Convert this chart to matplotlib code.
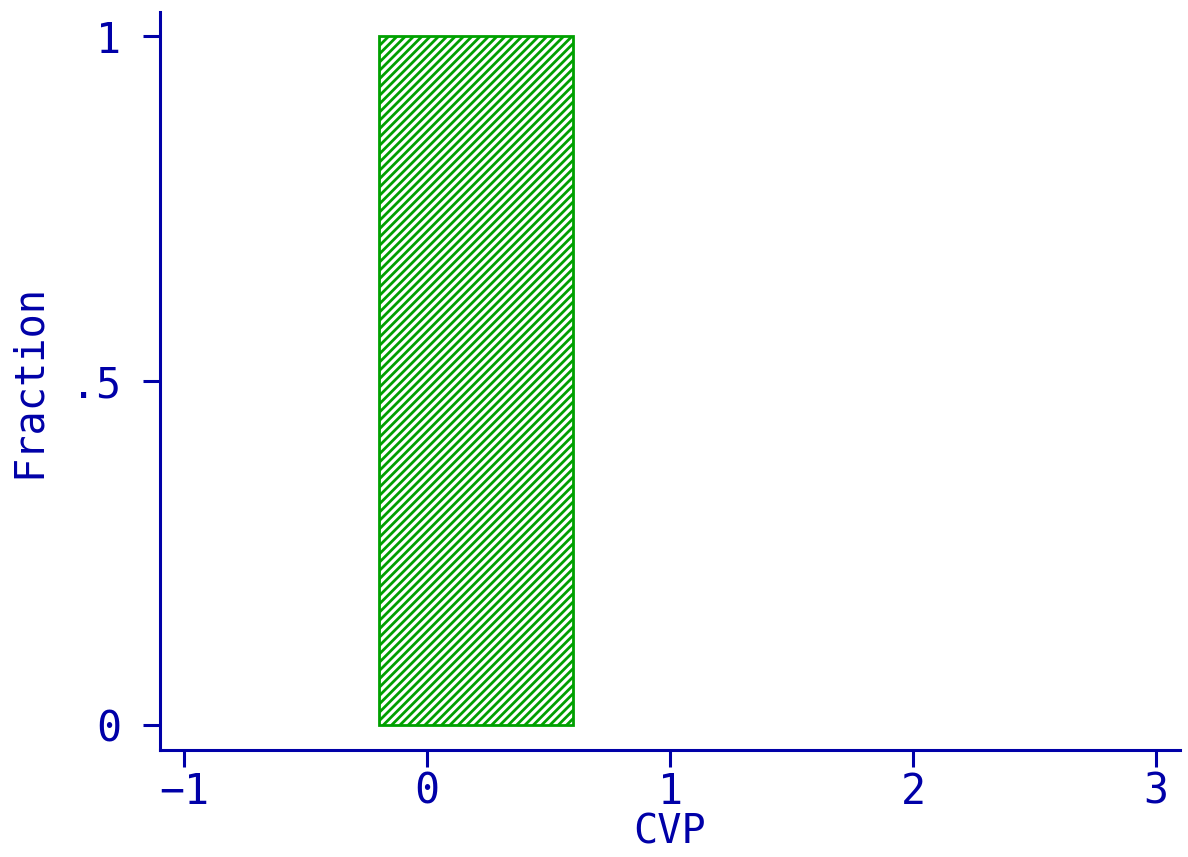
import matplotlib.pyplot as plt

# histogram of CVP: a single bin holds every observation
bin_edges = [-0.2, 0.6]
fractions = [1.0]
xticks = [-1, 0, 1, 2, 3]
yticks = [0, 0.5, 1]
ytick_labels = ["0", ".5", "1"]

blue = "#0000a8"
green = "#00a000"

plt.rcParams["font.family"] = "DejaVu Sans Mono"
plt.rcParams["hatch.linewidth"] = 2.0
plt.rcParams["hatch.color"] = green

fig = plt.figure(figsize=(11.88, 8.57), dpi=100)
ax = fig.add_axes([0.1347, 0.1249, 0.8586, 0.861])

ax.bar(bin_edges[0], fractions[0], width=bin_edges[1] - bin_edges[0],
       align="edge", facecolor="white", edgecolor=green, linewidth=2.0,
       hatch="////")

ax.set_xlim(-1.1, 3.1)
ax.set_ylim(-0.036, 1.035)

for side in ["top", "right"]:
    ax.spines[side].set_visible(False)
for side in ["left", "bottom"]:
    ax.spines[side].set_color(blue)
    ax.spines[side].set_linewidth(2.2)

ax.set_xticks(xticks)
ax.set_yticks(yticks)
ax.set_yticklabels(ytick_labels)
ax.tick_params(axis="both", colors=blue, labelsize=30, length=12, width=2.2,
               direction="out")
ax.tick_params(axis="x", pad=3)
ax.tick_params(axis="y", pad=16)

ax.set_xlabel("CVP", color=blue, fontsize=29, labelpad=0)
ax.set_ylabel("Fraction", color=blue, fontsize=29, labelpad=16)

fig.savefig("out.png", dpi=100)
